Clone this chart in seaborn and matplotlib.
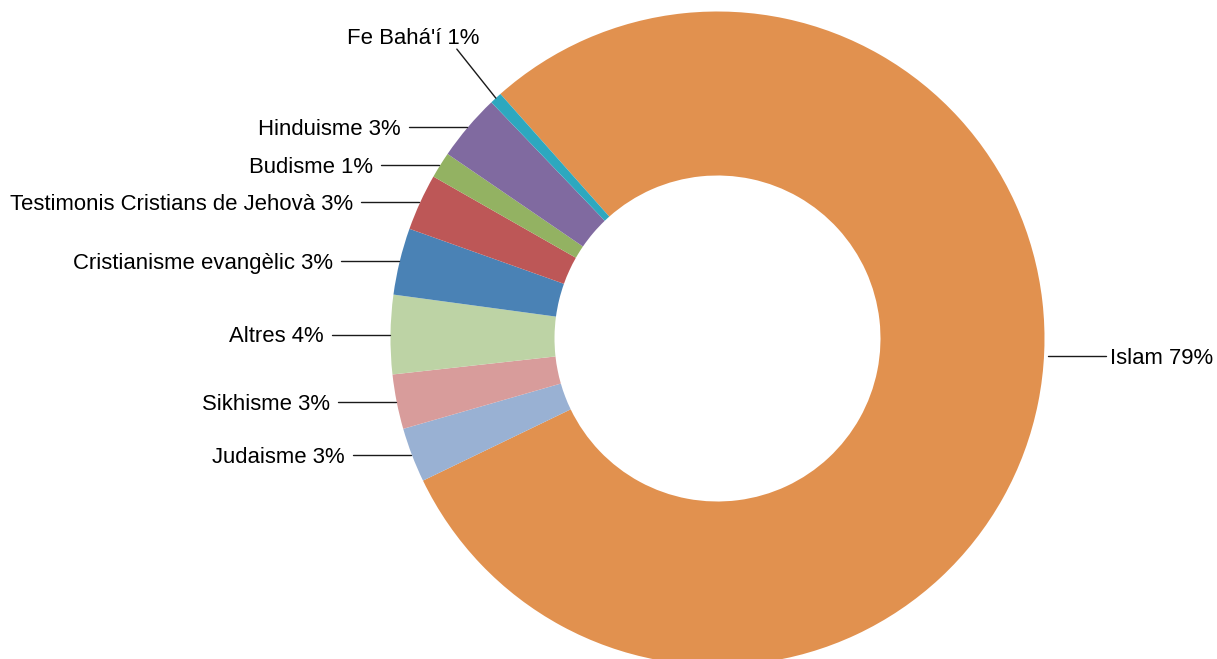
import numpy as np
import pandas as pd
import seaborn as sns
import matplotlib
matplotlib.use("Agg")
import matplotlib.pyplot as plt

# slices, clockwise from the top-left
religions = ["Islam", "Judaisme", "Sikhisme", "Altres", "Cristianisme evangèlic",
             "Testimonis Cristians de Jehovà", "Budisme", "Hinduisme", "Fe Bahá'í"]
shares = [79.4, 2.7, 2.7, 3.9, 3.3, 2.8, 1.3, 3.3, 0.6]
colours = ["#E1914F", "#99B1D3", "#D89C9B", "#BDD3A5", "#4A82B5",
           "#BD5757", "#93B262", "#806AA0", "#2DA8BF"]

df = pd.DataFrame({"religio": religions, "pct": shares})

sns.set_theme(style="white")
plt.rcParams['font.family'] = ['Liberation Sans', 'DejaVu Sans']

W, H = 1217, 659
fig = plt.figure(figsize=(W / 100, H / 100), dpi=100)
ax = fig.add_axes([0, 0, 1, 1])

cx, cy = 717.5, H - 338.5
R = 327
r_in = 163

wedges, _ = ax.pie(df["pct"], colors=sns.color_palette(colours), startangle=131.6,
                   counterclock=False, radius=R, center=(cx, cy),
                   wedgeprops=dict(width=R - r_in, linewidth=0))

ax.set_xlim(0, W)
ax.set_ylim(0, H)
ax.set_aspect('auto')
ax.axis('off')

fs = 15.9
cap = fs * 100 / 72 * 0.72
line_kw = dict(color="#1a1a1a", lw=1)
txt_kw = dict(fontsize=fs, color="black", va="baseline")

for w, name, p in zip(wedges, df["religio"], df["pct"]):
    label = f"{name} {round(p)}%"
    if name == "Islam":
        a = np.deg2rad(-3)
        ex, ey = cx + R * np.cos(a), cy + R * np.sin(a)
        ax.plot([ex + 4, ex + 62], [ey, ey], **line_kw)
        ax.text(ex + 66, ey - cap / 2, label, ha="left", **txt_kw)
        continue
    a = np.deg2rad((w.theta1 + w.theta2) / 2)
    ex, ey = cx + R * np.cos(a), cy + R * np.sin(a)
    if name == "Fe Bahá'í":
        lx, ly = ex - 39, ey + 49
        ax.plot([ex, lx], [ey, ly], **line_kw)
        ax.text(lx + 23, ly + 5, label, ha="right", **txt_kw)
    else:
        ax.plot([ex - 59, ex - 1], [ey, ey], **line_kw)
        ax.text(ex - 67, ey - cap / 2, label, ha="right", **txt_kw)

fig.savefig("out.png", dpi=100, facecolor="white")
